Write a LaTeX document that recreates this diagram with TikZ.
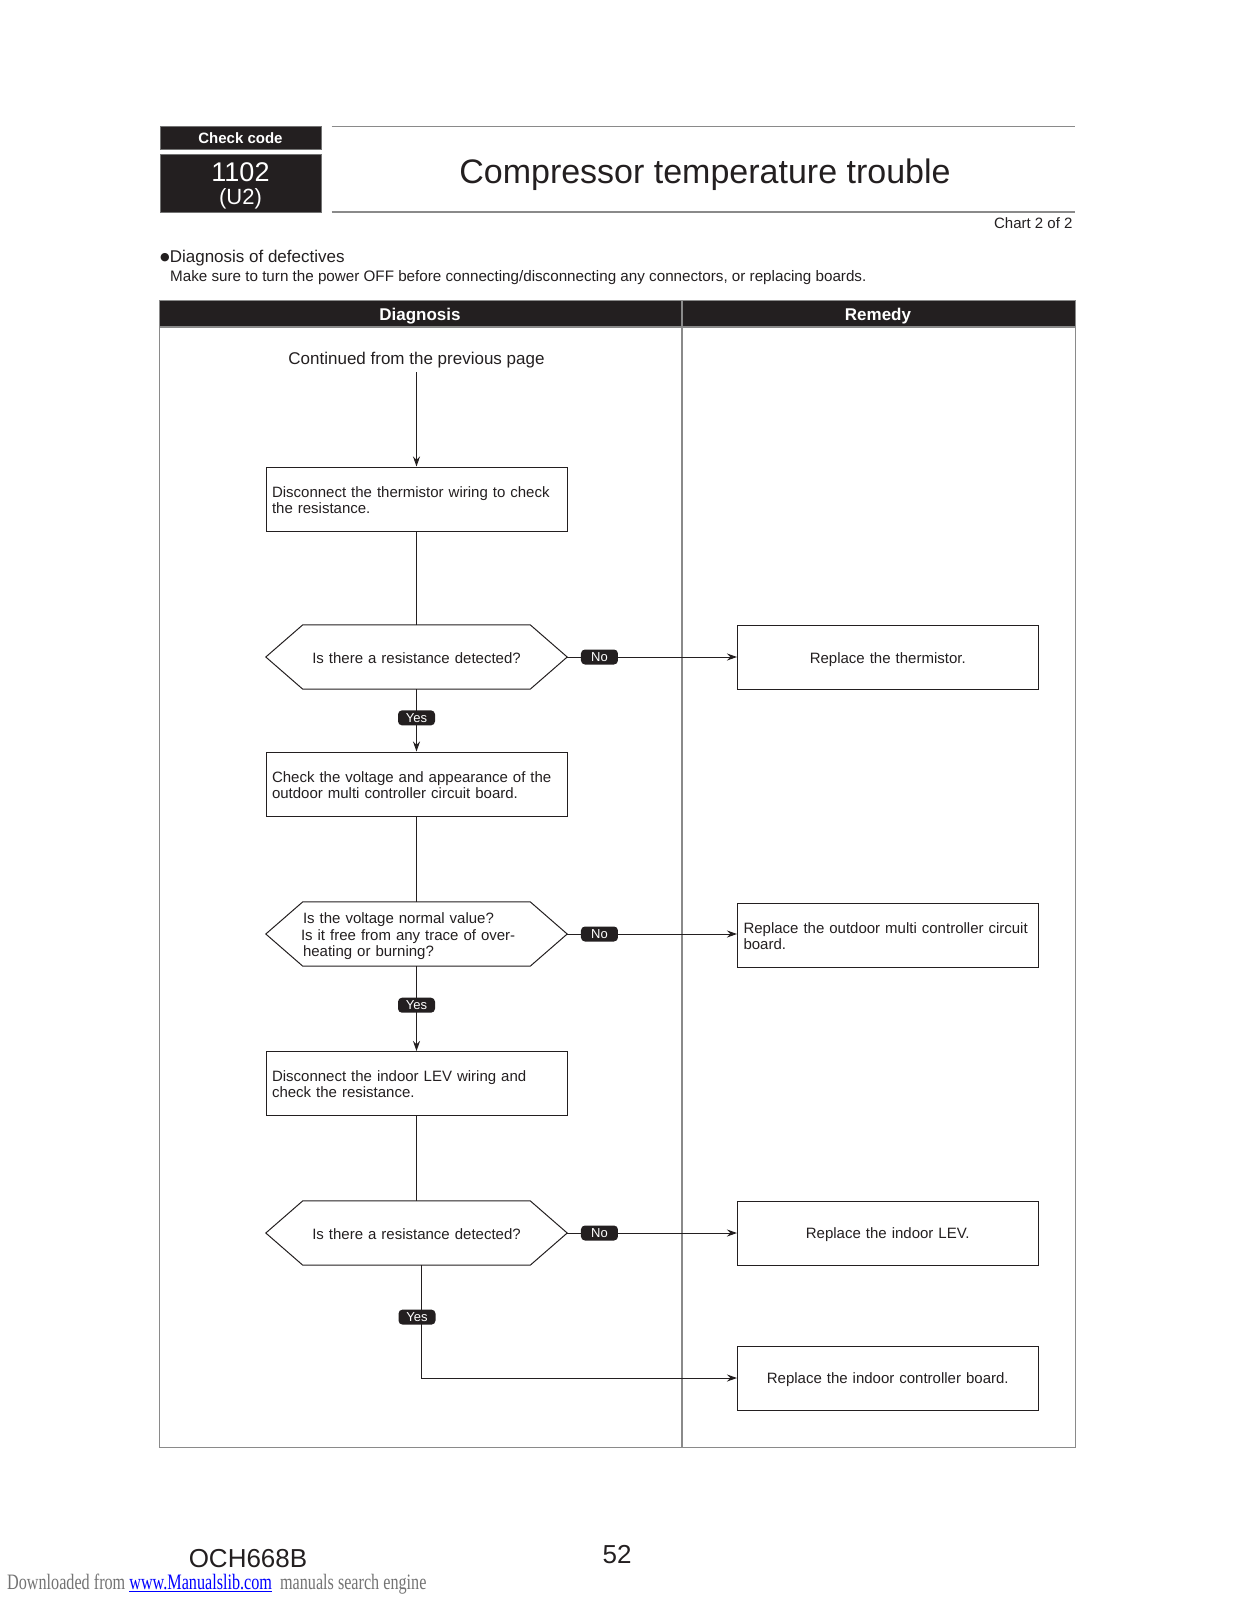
\documentclass[tikz,border=0pt]{standalone}
\usepackage{fontspec}
\setmainfont{Liberation Sans}
\newfontfamily\dlfont{Liberation Serif}
\newfontfamily\symfont{DejaVu Sans}
\usepackage{graphicx}
\usepackage{tikz}
\usetikzlibrary{arrows.meta,calc}
\definecolor{ink}{HTML}{231F20}
\definecolor{rulegray}{HTML}{8A8A8A}
\tikzstyle{actbox}=[draw=ink, line width=1pt, minimum width=301pt, minimum height=64pt, text width=289pt, inner sep=6pt, align=left, text=ink, font=\fontsize{15}{16}\selectfont]
\tikzstyle{askbox}=[minimum width=301pt, minimum height=64pt, text width=227pt, inner sep=0pt, align=center, text=ink, font=\fontsize{15}{16}\selectfont]
\tikzstyle{fixbox}=[draw=ink, line width=1pt, minimum width=300.5pt, minimum height=64pt, text width=288.5pt, inner sep=6pt, align=center, text=ink, font=\fontsize{15}{16}\selectfont]
\tikzstyle{tag}=[fill=ink, rounded corners=4pt, minimum width=37pt, minimum height=15pt, inner sep=0pt, text=white, font=\fontsize{13}{13}\selectfont]
\tikzstyle{edge} = [draw=ink, line width=1pt, -{Stealth[length=10pt,width=7pt]}]
\tikzstyle{link} = [draw=ink, line width=1pt]
\tikzstyle{codebox}=[fill=ink, draw=black!55, line width=0.8pt, minimum width=161pt, inner sep=0pt, text=white]
\newcommand{\drawhex}[1]{\draw[ink, line width=1pt] (#1.west) -- ([xshift=37pt]#1.north west) -- ([xshift=-37pt]#1.north east) -- (#1.east) -- ([xshift=-37pt]#1.south east) -- ([xshift=37pt]#1.south west) -- cycle;}

\begin{document}
\begin{tikzpicture}[x=1pt, y=-1pt]
    \useasboundingbox (0,0) rectangle (1237,1600);

    % heading
    \node[codebox, minimum height=22.5pt, font=\bfseries\fontsize{15}{15}\selectfont] (code) at (240.5,137.75) {Check code};
    \node[codebox, minimum height=58pt] (num) at (240.5,183) {};
    \node[anchor=base, text=white, inner sep=0pt, font=\fontsize{27}{27}\selectfont] (numa) at (240.5,181) {1102};
    \node[anchor=base, text=white, inner sep=0pt, font=\fontsize{22}{22}\selectfont] (numb) at (240.5,204) {(U2)};
    \draw[rulegray, line width=1.5pt] (331.5,126.5) -- (1075,126.5);
    \draw[rulegray, line width=1.5pt] (331.5,212) -- (1075,212);
    \node[anchor=base, text=ink, font=\fontsize{34}{34}\selectfont] (title) at (705,183) {Compressor temperature trouble};
    \node[anchor=base east, text=ink, font=\fontsize{15}{15}\selectfont] (chart) at (1076,228) {Chart 2 of 2};

    \node[anchor=base west, text=ink, inner sep=0pt, font=\fontsize{17}{17}\selectfont] (sub) at (160,262) {\raisebox{1.5pt}{\symfont\fontsize{11}{11}\selectfont ●}Diagnosis of defectives};
    \node[anchor=base west, text=ink, inner sep=0pt, font=\fontsize{15.2}{15.2}\selectfont] (note) at (170,281) {Make sure to turn the power OFF before connecting/disconnecting any connectors, or replacing boards.};

    % table
    \fill[ink] (159.5,300.5) rectangle (1075.5,327);
    \draw[rulegray, line width=1.3pt] (159.5,300.5) rectangle (1075.5,1447.5);
    \draw[rulegray, line width=1.3pt] (159.5,327) -- (1075.5,327);
    \draw[rulegray, line width=1.3pt] (682,300.5) -- (682,1447.5);
    \node[text=white, font=\bfseries\fontsize{17}{17}\selectfont] (hdiag) at (420,316) {Diagnosis};
    \node[text=white, font=\bfseries\fontsize{17}{17}\selectfont] (hfix) at (878,316) {Remedy};

    % diagnosis column
    \node[text=ink, inner sep=4pt, font=\fontsize{17}{17}\selectfont] (cont) at (416.5,360) {Continued from the previous page};

    \foreach \y/\name/\txt in {499/chk1/{Disconnect the thermistor wiring to check\\the resistance.},
                               784/chk2/{Check the voltage and appearance of the\\outdoor multi controller circuit board.},
                               1083.5/chk3/{Disconnect the indoor LEV wiring and\\check the resistance.}}
        \node[actbox] (\name) at (416.5,\y) {\rule{0pt}{13pt}\txt};

    \node[askbox] (ask1) at (416.5,657) {\rule{0pt}{14pt}Is there a resistance detected?};
    \node[askbox, align=left, font=\fontsize{15}{16.5}\selectfont] (ask2) at (416.5,934) {\rule{0pt}{16pt}Is the voltage normal value?\\\hspace*{-2pt}Is it free from any trace of over-\\heating or burning?};
    \node[askbox] (ask3) at (416.5,1233) {\rule{0pt}{14pt}Is there a resistance detected?};
    \foreach \name in {ask1, ask2, ask3}
        {\drawhex{\name}}

    % remedy column
    \foreach \y/\name/\txt in {657.5/fix1/{Replace the thermistor.},
                               1233/fix3/{Replace the indoor LEV.},
                               1378/fix4/{Replace the indoor controller board.}}
        \node[fixbox] (\name) at (887.75,\y) {\rule{0pt}{15pt}\txt};
    \node[fixbox, align=left] (fix2) at (887.75,935) {\rule{0pt}{13pt}Replace the outdoor multi controller circuit\\board.};

    % connectors
    \path[edge] (cont) -- (chk1);
    \foreach \source/\dest in {chk1/ask1, chk2/ask2, chk3/ask3}
        \path[link] (\source) -- (\dest);
    \foreach \source/\dest in {ask1/chk2, ask2/chk3}
        \path[edge] (\source) -- node[tag, pos=0.46] {Yes} (\dest);
    \foreach \source/\dest in {ask1/fix1, ask2/fix2, ask3/fix3}
        \path[edge] (\source.east) -- node[tag, pos=0.19] {No} (\source.east -| \dest.west);
    \path[edge] ([xshift=5pt]ask3.south) |- node[tag, pos=0.23, xshift=-4.5pt] {Yes} (fix4.west);

    % footer
    \node[text=ink, font=\fontsize{26}{26}\selectfont] (doc) at (248,1559) {OCH668B};
    \node[text=ink, font=\fontsize{26}{26}\selectfont] (page) at (617,1555) {52};
    \node[anchor=base west, inner sep=0pt, text=black!55, font=\dlfont\fontsize{22}{22}\selectfont] (dl) at (7,1589) {\scalebox{0.735}[1]{Downloaded from \textcolor{blue}{\underline{www.Manualslib.com}}\ \ manuals search engine}};
\end{tikzpicture}
\end{document}
